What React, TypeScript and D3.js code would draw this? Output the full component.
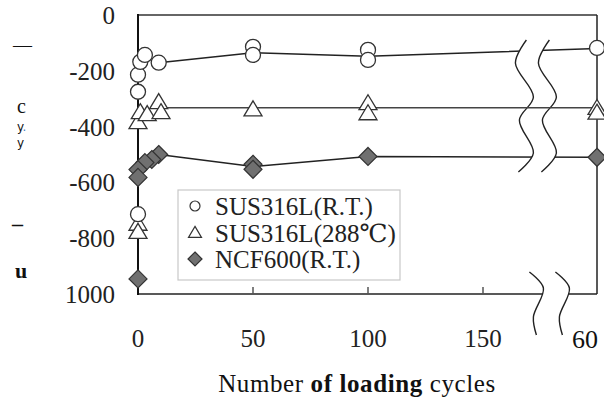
import React from 'react';
import * as d3 from 'd3';

// SUS316L at room temperature (open circles)
const rtCycles = [0, 0, 1, 3, 9, 0, 50, 50, 100, 100, 600];
const rtStress = [-275, -214, -168, -143, -171, -714, -114, -143, -125, -161, -118];
const rtLineCycles = [10, 50, 100, 600];
const rtLineStress = [-170, -135, -148, -120];

// SUS316L at 288°C (open triangles)
const htCycles = [0, 1, 4, 9, 10, 0, 0, 50, 100, 100, 600, 600];
const htStress = [-386, -350, -357, -314, -350, -750, -779, -340, -318, -354, -335, -352];
const htLineCycles = [10, 50, 100, 600];
const htLineStress = [-332, -332, -332, -332];

// NCF600 at room temperature (grey diamonds)
const ncfCycles = [9, 6, 3, 0, 0, 0, 50, 50, 100, 600];
const ncfStress = [-500, -518, -529, -554, -582, -946, -535, -553, -507, -510];
const ncfLineCycles = [9, 50, 100, 600];
const ncfLineStress = [-500, -543, -507, -510];

const xTicks = [0, 50, 100, 150];
const yTicks = [0, -200, -400, -600, -800, -1000];
const yTickLabels = ['0', '-200', '-400', '-600', '-800', '1000'];
const legendLabels = ['SUS316L(R.T.)', 'SUS316L(288\u2103)', 'NCF600(R.T.)'];

const W = 604;
const H = 401;
const left = 138;
const right = 597;
const top = 15;
const bottom = 294;

const serif = { fontFamily: 'Liberation Serif, Times New Roman, DejaVu Serif, serif' };
const sans = { fontFamily: 'DejaVu Sans, sans-serif' };

// broken axis: 0..175 linear, then jumps to 600 at the right edge
const x = d3.scaleLinear().domain([0, 175, 600]).range([left, 540.5, right]);
const y = d3.scaleLinear().domain([0, -1000]).range([top, bottom]);

const line = d3
  .line<[number, number]>()
  .x((d) => x(d[0]))
  .y((d) => y(d[1]));

const wave = d3
  .line<[number, number]>()
  .x((d) => d[0])
  .y((d) => d[1])
  .curve(d3.curveCatmullRom);

const zip = (a: number[], b: number[]) => a.map((v, i) => [v, b[i]] as [number, number]);

// break symbol shapes, offsets relative to the break position
const topWave: [number, number][] = [[2, 0], [-9, 23], [9, 57], [-5, 80], [9, 113], [-6, 132]];
const botWave: [number, number][] = [[0, 0], [14, 16], [4, 45], [7, 63]];

const tri = (cx: number, cy: number, w: number, h: number) =>
  `M${cx},${cy - h * 0.6}L${cx + w / 2},${cy + h * 0.4}L${cx - w / 2},${cy + h * 0.4}Z`;
const dia = (cx: number, cy: number, r: number) =>
  `M${cx},${cy - r}L${cx + r},${cy}L${cx},${cy + r}L${cx - r},${cy}Z`;

const App = () => {
  const bx = x(168);
  const tw1 = topWave.map(([dx, dy]) => [bx + dx, 40 + dy] as [number, number]);
  const tw2 = topWave.map(([dx, dy]) => [bx + 23 + dx, 40 + dy] as [number, number]);
  const bw1 = botWave.map(([dx, dy]) => [bx + 5 + dx, 272 + dy] as [number, number]);
  const bw2 = botWave.map(([dx, dy]) => [bx + 31 + dx, 272 + dy] as [number, number]);
  const band = (a: [number, number][], b: [number, number][]) =>
    wave(a) + 'L' + wave([...b].reverse()).slice(1) + 'Z';

  return (
    <svg width={W} height={H} style={{ position: 'absolute', left: 0, top: 0, background: '#fff' }}>
      {/* stray y-axis title fragments */}
      <g fill="#111">
        <text x={13} y={51} style={serif} fontSize={19}>—</text>
        <text x={17} y={113} style={serif} fontSize={20}>c</text>
        <text x={17} y={131} style={sans} fontSize={12}>y<tspan fill="#4a7fc0">.</tspan></text>
        <text x={17} y={147} style={sans} fontSize={12}>y</text>
        <text x={12} y={231} style={serif} fontSize={22} fontWeight="bold">–</text>
        <text x={15} y={278} style={serif} fontSize={22} fontWeight="bold">u</text>
      </g>

      {/* y tick labels */}
      {yTicks.map((t, i) => (
        <text key={t} x={115} y={y(t) + 9} textAnchor="end" style={serif} fontSize={25} fill="#222">
          {yTickLabels[i]}
        </text>
      ))}

      {/* x tick labels */}
      {xTicks.map((t) => (
        <text key={t} x={x(t)} y={347} textAnchor="middle" style={serif} fontSize={25} fill="#222">
          {t}
        </text>
      ))}
      <text x={x(600) + 1} y={348} textAnchor="end" style={serif} fontSize={26} fill="#111">60</text>

      {/* frame */}
      <line x1={left} x2={right} y1={top} y2={top} stroke="#333" strokeWidth={1.3} />
      <line x1={right} x2={right} y1={top} y2={bottom} stroke="#222" strokeWidth={1.5} />
      <line x1={left} x2={right} y1={bottom} y2={bottom} stroke="#222" strokeWidth={1.5} />
      {xTicks.slice(1).map((t) => (
        <line key={t} x1={x(t)} x2={x(t)} y1={bottom} y2={bottom - 7} stroke="#555" strokeWidth={1.5} />
      ))}

      {/* mean lines */}
      <path d={line(zip(rtLineCycles, rtLineStress)) || ''} fill="none" stroke="#222" strokeWidth={1.5} />
      <path d={line(zip(ncfLineCycles, ncfLineStress)) || ''} fill="none" stroke="#222" strokeWidth={1.5} />

      {/* break symbols */}
      <path d={band(tw1, tw2)} fill="#fff" stroke="none" />
      <path d={band(bw1, bw2)} fill="#fff" stroke="none" />
      {[tw1, tw2, bw1, bw2].map((w, i) => (
        <path key={i} d={wave(w) || ''} fill="none" stroke="#222" strokeWidth={1.4} />
      ))}

      <path d={line(zip(htLineCycles, htLineStress)) || ''} fill="none" stroke="#444" strokeWidth={1.5} />
      <line x1={left} x2={left} y1={top - 1} y2={bottom + 1} stroke="#111" strokeWidth={2} />

      {/* markers */}
      {zip(ncfCycles, ncfStress).map((d, i) => (
        <path key={'n' + i} d={dia(x(d[0]), y(d[1]), 9)} fill="#707070" stroke="#333" strokeWidth={1.2} />
      ))}
      {zip(htCycles, htStress).map((d, i) => (
        <path key={'h' + i} d={tri(x(d[0]), y(d[1]), 18, 15)} fill="#fff" stroke="#333" strokeWidth={1.3} />
      ))}
      {zip(rtCycles, rtStress).map((d, i) => (
        <circle key={'r' + i} cx={x(d[0])} cy={y(d[1])} r={7.5} fill="#fff" stroke="#333" strokeWidth={1.3} />
      ))}

      {/* legend */}
      <rect x={178} y={190} width={222} height={90} fill="#fff" stroke="#c8c8c8" strokeWidth={1.2} />
      <circle cx={195} cy={206} r={5} fill="#fff" stroke="#333" strokeWidth={1.2} />
      <path d={tri(195, 233, 13, 11)} fill="#fff" stroke="#333" strokeWidth={1.2} />
      <path d={dia(195, 259, 7)} fill="#707070" stroke="#333" strokeWidth={1.2} />
      {legendLabels.map((l, i) => (
        <text key={l} x={215} y={215 + i * 26.5} style={serif} fontSize={25} fill="#222">
          {l}
        </text>
      ))}

      {/* x axis title */}
      <text x={357} y={392} textAnchor="middle" style={serif} fontSize={25} letterSpacing={0.6} fill="#111">
        Number <tspan fontWeight="bold">of loading</tspan> cycles
      </text>
    </svg>
  );
};

export default App;
